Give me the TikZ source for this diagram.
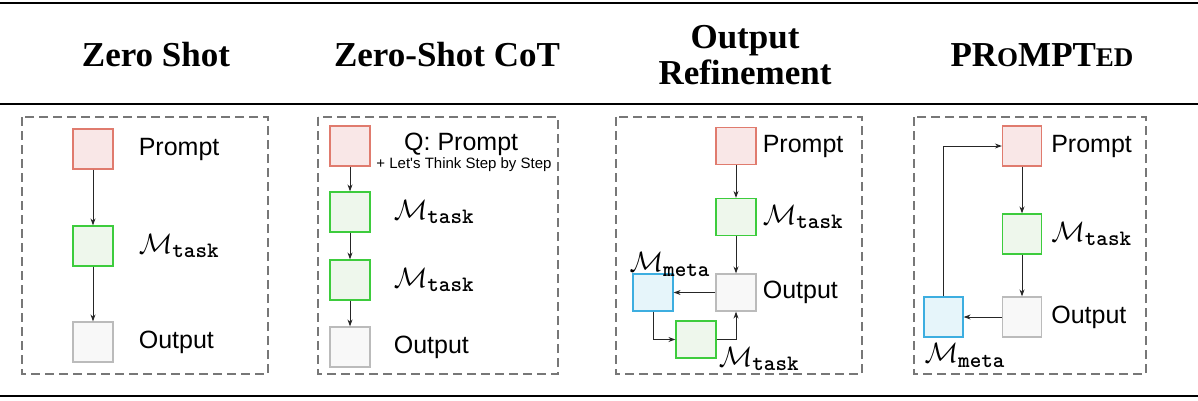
\RequirePackage{fix-cm}
\documentclass[tikz,border=0pt]{standalone}
\usepackage{amsmath}
\usepackage{fontspec}
\setmainfont{Liberation Serif}
\newfontfamily\labelfont{Liberation Sans}
\usetikzlibrary{positioning}
\usetikzlibrary{arrows.meta}
\definecolor{promptfill}{HTML}{F9E7E7}
\definecolor{promptdraw}{HTML}{E07B6E}
\definecolor{taskfill}{HTML}{EEF7EC}
\definecolor{taskdraw}{HTML}{3DCC3D}
\definecolor{outfill}{HTML}{F8F8F8}
\definecolor{outdraw}{HTML}{BBBBBB}
\definecolor{metafill}{HTML}{E6F5FA}
\definecolor{metadraw}{HTML}{3DAEE0}
\definecolor{framegray}{HTML}{777777}
\def\subtt#1{\text{\fontsize{22}{22}\selectfont\ttfamily\bfseries #1}}
\def\Mtask{\ensuremath{\mathcal{M}_{\subtt{task}}}}
\def\Mmeta{\ensuremath{\mathcal{M}_{\subtt{meta}}}}

\begin{document}
\begin{tikzpicture}[x=1pt,y=-1pt,
    box/.style={draw, line width=1.2pt, inner sep=0pt, minimum width=40pt, minimum height=40pt},
    promptbox/.style={box, fill=promptfill, draw=promptdraw},
    taskbox/.style={box, fill=taskfill, draw=taskdraw},
    outbox/.style={box, fill=outfill, draw=outdraw},
    metabox/.style={box, fill=metafill, draw=metadraw},
    lbl/.style={inner sep=0pt, font=\labelfont\fontsize{25}{28}\selectfont},
    mlbl/.style={inner sep=0pt, font=\fontsize{28}{30}\selectfont},
    title/.style={font=\bfseries\fontsize{35}{38}\selectfont, align=center},
    flow/.style={-{Stealth[length=7pt,width=5pt]}, line width=1pt, draw=black!85},
    frame/.style={draw=framegray, line width=2pt, dash pattern=on 9pt off 5pt}]
    \useasboundingbox (0,0) rectangle (1198,400);
    % rules
    \draw[line width=2.5pt] (0,3) -- (1198,3);
    \draw[line width=1.5pt] (0,104) -- (1198,104);
    \draw[line width=2pt] (0,396) -- (1198,396);
    % titles
    \node[title] (ZS) at (156,55) {Zero Shot};
    \node[title] (ZC) at (447,55) {Zero-Shot CoT};
    \node[title] (OR) at (745,55) {Output\\[-2pt]Refinement};
    \node[title] (PR) at (1042,55) {PR{\fontsize{27}{30}\selectfont O}MPT{\fontsize{27}{30}\selectfont ED}};
    % frames
    \draw[frame] (22,117) rectangle (268,374);
    \draw[frame] (318,117) rectangle (558,374);
    \draw[frame] (616,117) rectangle (862,374);
    \draw[frame] (914,117) rectangle (1146,374);

    % zero shot
    \node[promptbox] (P1) at (93,149) {};
    \node[taskbox] (T1) at (93,246) {};
    \node[outbox] (O1) at (93,342) {};
    \node[lbl, right=25pt of P1] (LP1) {Prompt};
    \node[mlbl, right=25pt of T1] (LT1) {\Mtask};
    \node[lbl, right=25pt of O1] (LO1) {Output};
    \draw[flow] (P1) -- (T1);
    \draw[flow] (T1) -- (O1);

    % zero-shot cot
    \node[promptbox] (P2) at (350,146) {};
    \node[taskbox] (T2) at (350,212) {};
    \node[taskbox] (T2b) at (350,280) {};
    \node[outbox] (O2) at (350,347) {};
    \node[lbl, anchor=west] (LP2) at (404,144) {Q: Prompt};
    \node[inner sep=0pt, font=\labelfont\fontsize{15}{17}\selectfont] (LS2) at (464,165) {+ Let's Think Step by Step};
    \node[mlbl, right=23pt of T2] (LT2) {\Mtask};
    \node[mlbl, right=23pt of T2b] (LT2b) {\Mtask};
    \node[lbl, right=23pt of O2] (LO2) {Output};
    \draw[flow] (P2) -- (T2);
    \draw[flow] (T2) -- (T2b);
    \draw[flow] (T2b) -- (O2);

    % output refinement
    \node[promptbox, minimum height=37pt] (P3) at (736,146) {};
    \node[taskbox, minimum height=37pt] (T3) at (736,217) {};
    \node[outbox, minimum height=37pt] (O3) at (736,292.5) {};
    \node[metabox, minimum height=37pt] (M3) at (653,292.5) {};
    \node[taskbox, minimum height=37pt] (T3b) at (696,339.5) {};
    \node[lbl, right=6pt of P3] (LP3) {Prompt};
    \node[mlbl, right=6pt of T3] (LT3) {\Mtask};
    \node[lbl, right=6pt of O3] (LO3) {Output};
    \node[mlbl, anchor=south west] (LM3) at ([xshift=-3pt,yshift=-3pt]M3.north west) {\Mmeta};
    \node[mlbl, right=2pt of T3b.south east] (LT3b) {\Mtask};
    \draw[flow] (P3) -- (T3);
    \draw[flow] (T3) -- (O3);
    \draw[flow] (O3) -- (M3);
    \draw[flow] (M3.south) |- (T3b.west);
    \draw[flow] (T3b.east) -| (O3.south);

    % prompted
    \node[promptbox, minimum width=39pt] (P4) at (1022,146) {};
    \node[taskbox, minimum width=39pt] (T4) at (1022,234) {};
    \node[outbox, minimum width=39pt] (O4) at (1022,317) {};
    \node[metabox, minimum width=39pt] (M4) at (943.5,317) {};
    \node[lbl, right=9pt of P4] (LP4) {Prompt};
    \node[mlbl, right=9pt of T4] (LT4) {\Mtask};
    \node[lbl, right=9pt of O4] (LO4) {Output};
    \node[mlbl, anchor=north west] (LM4) at ([xshift=1pt,yshift=-6pt]M4.south west) {\Mmeta};
    \draw[flow] (P4) -- (T4);
    \draw[flow] (T4) -- (O4);
    \draw[flow] (O4) -- (M4);
    \draw[flow] (M4.north) |- (P4.west);
\end{tikzpicture}
\end{document}
